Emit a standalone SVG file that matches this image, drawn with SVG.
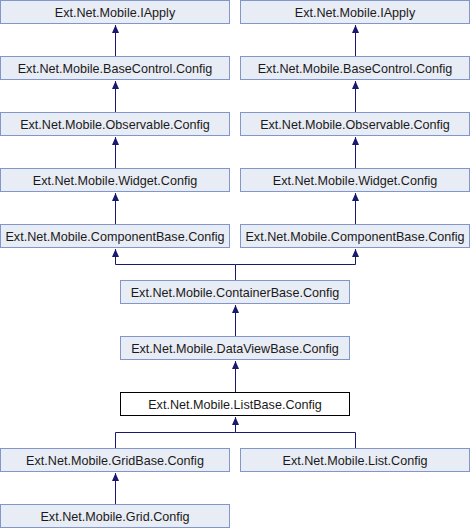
<svg xmlns="http://www.w3.org/2000/svg" width="470" height="528" viewBox="0 0 470 528">
<defs>
<style>
.n rect{fill:#e8ecf5;stroke:#8196cc;stroke-width:1}
.n.cur rect{fill:#ffffff;stroke:#000000}
.n text{font-family:"Liberation Sans",Arial,sans-serif;font-size:12.6px;fill:#1a1a1a;text-anchor:middle}
.e{fill:none;stroke:#191970;stroke-width:1}
</style>
<marker id="ah" markerWidth="8" markerHeight="10" refX="8" refY="4" orient="auto" markerUnits="userSpaceOnUse" viewBox="0 0 8 8">
<path d="M0,0.5 L8,4 L0,7.5 Z" fill="#191970"/>
</marker>
</defs>
<rect width="470" height="528" fill="#ffffff"/>
<g id="edges">
<path class="e" d="M115.5,56 V25" marker-end="url(#ah)"/>
<path class="e" d="M355.5,56 V25" marker-end="url(#ah)"/>
<path class="e" d="M115.5,112 V81" marker-end="url(#ah)"/>
<path class="e" d="M355.5,112 V81" marker-end="url(#ah)"/>
<path class="e" d="M115.5,168 V137" marker-end="url(#ah)"/>
<path class="e" d="M355.5,168 V137" marker-end="url(#ah)"/>
<path class="e" d="M115.5,224 V193" marker-end="url(#ah)"/>
<path class="e" d="M355.5,224 V193" marker-end="url(#ah)"/>
<path class="e" d="M235.5,280 V264.5 H115.5 V249" marker-end="url(#ah)"/>
<path class="e" d="M235.5,264.5 H355.5 V249" marker-end="url(#ah)"/>
<path class="e" d="M235.5,336 V305" marker-end="url(#ah)"/>
<path class="e" d="M235.5,392 V361" marker-end="url(#ah)"/>
<path class="e" d="M115.5,448 V432.5 H235.5 V417" marker-end="url(#ah)"/>
<path class="e" d="M355.5,448 V432.5 H235.5"/>
<path class="e" d="M115.5,504 V473" marker-end="url(#ah)"/>
</g>
<g id="n_iapply_l" class="n"><rect x="0.5" y="0.5" width="229" height="23"/><text x="115" y="16.5">Ext.Net.Mobile.IApply</text></g>
<g id="n_iapply_r" class="n"><rect x="240.5" y="0.5" width="229" height="23"/><text x="355" y="16.5">Ext.Net.Mobile.IApply</text></g>
<g id="n_basecontrol_l" class="n"><rect x="0.5" y="56.5" width="229" height="23"/><text x="115" y="72.5">Ext.Net.Mobile.BaseControl.Config</text></g>
<g id="n_basecontrol_r" class="n"><rect x="240.5" y="56.5" width="229" height="23"/><text x="355" y="72.5">Ext.Net.Mobile.BaseControl.Config</text></g>
<g id="n_observable_l" class="n"><rect x="0.5" y="112.5" width="229" height="23"/><text x="115" y="128.5">Ext.Net.Mobile.Observable.Config</text></g>
<g id="n_observable_r" class="n"><rect x="240.5" y="112.5" width="229" height="23"/><text x="355" y="128.5">Ext.Net.Mobile.Observable.Config</text></g>
<g id="n_widget_l" class="n"><rect x="0.5" y="168.5" width="229" height="23"/><text x="115" y="184.5">Ext.Net.Mobile.Widget.Config</text></g>
<g id="n_widget_r" class="n"><rect x="240.5" y="168.5" width="229" height="23"/><text x="355" y="184.5">Ext.Net.Mobile.Widget.Config</text></g>
<g id="n_componentbase_l" class="n"><rect x="0.5" y="224.5" width="229" height="23"/><text x="115" y="240.5">Ext.Net.Mobile.ComponentBase.Config</text></g>
<g id="n_componentbase_r" class="n"><rect x="240.5" y="224.5" width="229" height="23"/><text x="355" y="240.5">Ext.Net.Mobile.ComponentBase.Config</text></g>
<g id="n_containerbase" class="n"><rect x="120.5" y="280.5" width="229" height="23"/><text x="235" y="296.5">Ext.Net.Mobile.ContainerBase.Config</text></g>
<g id="n_dataviewbase" class="n"><rect x="120.5" y="336.5" width="229" height="23"/><text x="235" y="352.5">Ext.Net.Mobile.DataViewBase.Config</text></g>
<g id="n_listbase" class="n cur"><rect x="120.5" y="392.5" width="229" height="23"/><text x="235" y="408.5">Ext.Net.Mobile.ListBase.Config</text></g>
<g id="n_gridbase" class="n"><rect x="0.5" y="448.5" width="229" height="23"/><text x="115" y="464.5">Ext.Net.Mobile.GridBase.Config</text></g>
<g id="n_list" class="n"><rect x="240.5" y="448.5" width="229" height="23"/><text x="355" y="464.5">Ext.Net.Mobile.List.Config</text></g>
<g id="n_grid" class="n"><rect x="0.5" y="504.5" width="229" height="23"/><text x="115" y="520.5">Ext.Net.Mobile.Grid.Config</text></g>
</svg>
